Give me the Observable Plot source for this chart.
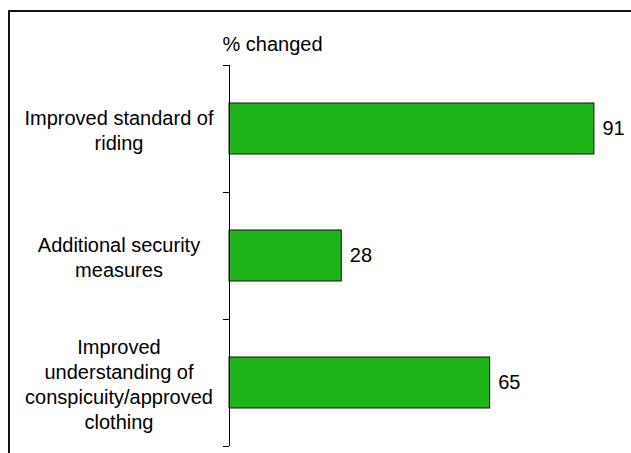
<!DOCTYPE html>
<html>
<head>
<meta charset="utf-8">
<script src="https://cdn.jsdelivr.net/npm/d3@7"></script>
<script src="https://cdn.jsdelivr.net/npm/@observablehq/plot@0.6"></script>
<style>
  html, body { margin: 0; padding: 0; background: #fff; overflow: hidden; }
  #wrap { position: relative; width: 631px; height: 453px; }
  #chart { position: absolute; left: 0; top: 0; }
  #frame { position: absolute; left: 8px; top: 10px; width: 700px; height: 500px;
           border-left: 2px solid #111; border-top: 2px solid #111; z-index: 2; pointer-events: none; }
</style>
</head>
<body>
<div id="wrap"><div id="chart"></div><div id="frame"></div></div>
<script>
const categories = [
  "Improved standard of\nriding",
  "Additional security\nmeasures",
  "Improved\nunderstanding of\nconspicuity/approved\nclothing"
];
const values = [91, 28, 65];
const axisTitle = "% changed";

const data = categories.map((c, i) => ({category: c, value: values[i]}));
const font = "Liberation Sans, Arial, sans-serif";

function boundaryTicks(index, scales, vals, dimensions, context) {
  const y = scales.y;
  const bw = typeof y.bandwidth === "function" ? y.bandwidth() : y.bandwidth;
  const st = typeof y.step === "function" ? y.step() : y.step;
  const x0 = dimensions.marginLeft;
  const ys = categories.map(c => y(c) - (st - bw) / 2);
  ys.push(ys[ys.length - 1] + st);
  const g = d3.create("svg:g");
  g.selectAll("line").data(ys).join("line")
    .attr("x1", x0 - 6).attr("x2", x0)
    .attr("y1", d => Math.round(d) + 0.5).attr("y2", d => Math.round(d) + 0.5)
    .attr("stroke", "#000").attr("stroke-width", 1);
  return g.node();
}

const plot = Plot.plot({
  width: 631,
  height: 453,
  marginLeft: 229,
  marginRight: 1,
  marginTop: 65,
  marginBottom: 7,
  style: {fontFamily: font, fontSize: "20px", color: "#000", background: "transparent"},
  x: {domain: [0, 100], axis: null},
  y: {domain: categories, paddingInner: 0.6, paddingOuter: 0.3, axis: null},
  marks: [
    Plot.barX(data, {x: "value", y: "category", fill: "#1fb51a", stroke: "#111", strokeWidth: 1}),
    Plot.ruleX([0], {stroke: "#000", strokeWidth: 1}),
    boundaryTicks,
    Plot.text(data, {x: "value", y: "category", text: d => String(d.value), dx: 8, textAnchor: "start", fill: "#000", fontSize: 20}),
    Plot.text(data, {y: "category", text: "category", frameAnchor: "left", dx: -110.5, textAnchor: "middle", lineHeight: 1.25, fill: "#000", fontSize: 20}),
    Plot.text([axisTitle], {text: d => d, frameAnchor: "top-left", dx: -7, dy: -15, textAnchor: "start", lineAnchor: "bottom", fill: "#000", fontSize: 20})
  ]
});
document.getElementById("chart").appendChild(plot);
</script>
</body>
</html>
